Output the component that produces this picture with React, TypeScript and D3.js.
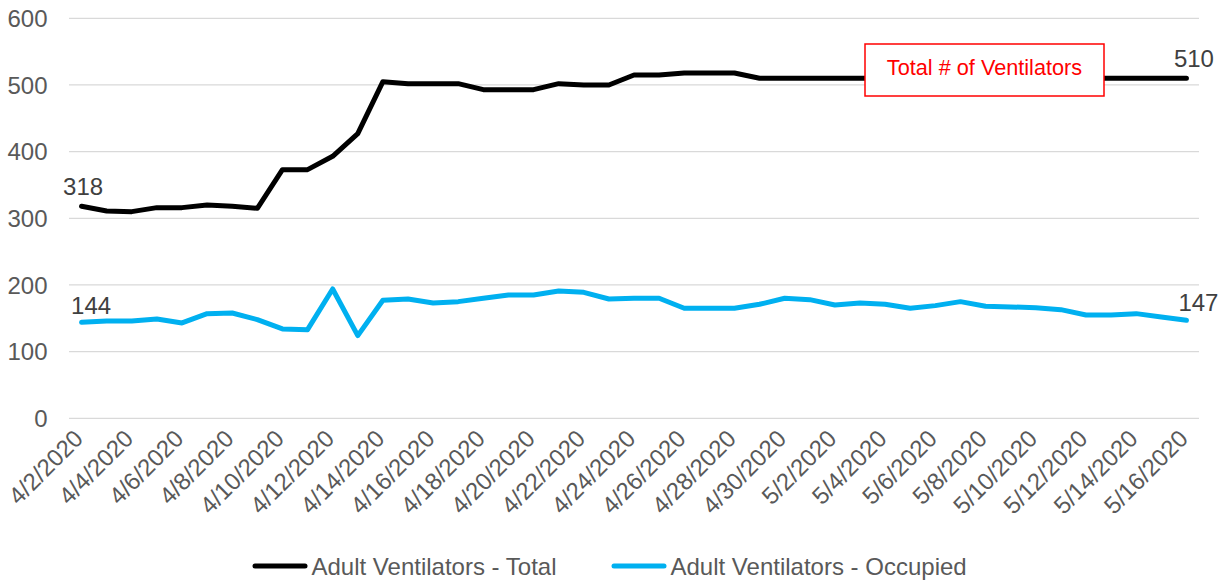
import React from "react";
import * as d3 from "d3";

const dates = [
  "4/2/2020","4/3/2020","4/4/2020","4/5/2020","4/6/2020","4/7/2020","4/8/2020","4/9/2020",
  "4/10/2020","4/11/2020","4/12/2020","4/13/2020","4/14/2020","4/15/2020","4/16/2020","4/17/2020",
  "4/18/2020","4/19/2020","4/20/2020","4/21/2020","4/22/2020","4/23/2020","4/24/2020","4/25/2020",
  "4/26/2020","4/27/2020","4/28/2020","4/29/2020","4/30/2020","5/1/2020","5/2/2020","5/3/2020",
  "5/4/2020","5/5/2020","5/6/2020","5/7/2020","5/8/2020","5/9/2020","5/10/2020","5/11/2020",
  "5/12/2020","5/13/2020","5/14/2020","5/15/2020","5/16/2020",
];

const totalVents = [
  318, 311, 310, 316, 316, 320, 318, 315,
  373, 373, 393, 427, 505, 502, 502, 502,
  493, 493, 493, 502, 500, 500, 515, 515,
  518, 518, 518, 510, 510, 510, 510, 510,
  510, 510, 510, 510, 510, 510, 510, 510,
  510, 510, 510, 510, 510,
];

const occupiedVents = [
  144, 146, 146, 149, 143, 157, 158, 148,
  134, 133, 194, 124, 177, 179, 173, 175,
  180, 185, 185, 191, 189, 179, 180, 180,
  165, 165, 165, 171, 180, 178, 170, 173,
  171, 165, 169, 175, 168, 167, 166, 163,
  155, 155, 157, 152, 147,
];

const yTicks = [0, 100, 200, 300, 400, 500, 600];
const seriesNames = ["Adult Ventilators - Total", "Adult Ventilators - Occupied"];
const annotationText = "Total # of Ventilators";

const W = 1227;
const H = 584;
const FONT = "'Liberation Sans', Arial, sans-serif";
const TEXT = "#595959";
const BLACK = "#000000";
const BLUE = "#00B0F0";
const FS = 24;

export default function App() {
  const x = d3.scalePoint<string>().domain(dates).range([69, 1199]).padding(0.5);
  const y = d3.scaleLinear().domain([0, 600]).range([418.3, 18.3]);
  const line = d3
    .line<number>()
    .x((_, i) => x(dates[i]) as number)
    .y((d) => y(d));

  const labelDates = dates.filter((_, i) => i % 2 === 0);
  const n = dates.length - 1;

  return (
    <svg
      width={W}
      height={H}
      style={{ position: "absolute", left: 0, top: 0, fontFamily: FONT }}
    >
      <rect width={W} height={H} fill="#fff" />
      {yTicks.map((t) => (
        <g key={t}>
          <line x1={69} x2={1199} y1={y(t)} y2={y(t)} stroke="#D9D9D9" strokeWidth={1.3} />
          <text x={47.5} y={y(t)} dy="0.36em" textAnchor="end" fontSize={FS} fill={TEXT}>
            {t}
          </text>
        </g>
      ))}
      {labelDates.map((d) => (
        <text
          key={d}
          transform={`translate(${(x(d) as number) + 3},${440}) rotate(-45)`}
          textAnchor="end"
          fontSize={FS}
          fill={TEXT}
        >
          {d}
        </text>
      ))}
      <path
        d={line(totalVents) as string}
        fill="none"
        stroke={BLACK}
        strokeWidth={5}
        strokeLinejoin="round"
        strokeLinecap="round"
      />
      <path
        d={line(occupiedVents) as string}
        fill="none"
        stroke={BLUE}
        strokeWidth={5}
        strokeLinejoin="round"
        strokeLinecap="round"
      />
      {/* data labels */}
      <text x={(x(dates[0]) as number) + 1.5} y={y(totalVents[0]) - 11} textAnchor="middle" fontSize={FS} fill="#404040">
        {totalVents[0]}
      </text>
      <text x={(x(dates[0]) as number) + 9.5} y={y(occupiedVents[0]) - 8.5} textAnchor="middle" fontSize={FS} fill="#404040">
        {occupiedVents[0]}
      </text>
      <text x={(x(dates[n]) as number) + 7.5} y={y(totalVents[n]) - 11.6} textAnchor="middle" fontSize={FS} fill="#404040">
        {totalVents[n]}
      </text>
      <text x={(x(dates[n]) as number) + 12} y={y(occupiedVents[n]) - 9} textAnchor="middle" fontSize={FS} fill="#404040">
        {occupiedVents[n]}
      </text>
      {/* annotation */}
      <rect x={865} y={44} width={239} height={52} fill="#fff" stroke="#FF0000" strokeWidth={1.5} />
      <text x={984.5} y={75} textAnchor="middle" fontSize={21.7} fill="#FF0000">
        {annotationText}
      </text>
      {/* legend */}
      <line x1={255} x2={305} y1={566} y2={566} stroke={BLACK} strokeWidth={5} strokeLinecap="round" />
      <text x={311.5} y={574.5} fontSize={FS} fill={TEXT}>
        {seriesNames[0]}
      </text>
      <line x1={614} x2={664} y1={566} y2={566} stroke={BLUE} strokeWidth={5} strokeLinecap="round" />
      <text x={670.5} y={574.5} fontSize={FS} fill={TEXT}>
        {seriesNames[1]}
      </text>
    </svg>
  );
}
